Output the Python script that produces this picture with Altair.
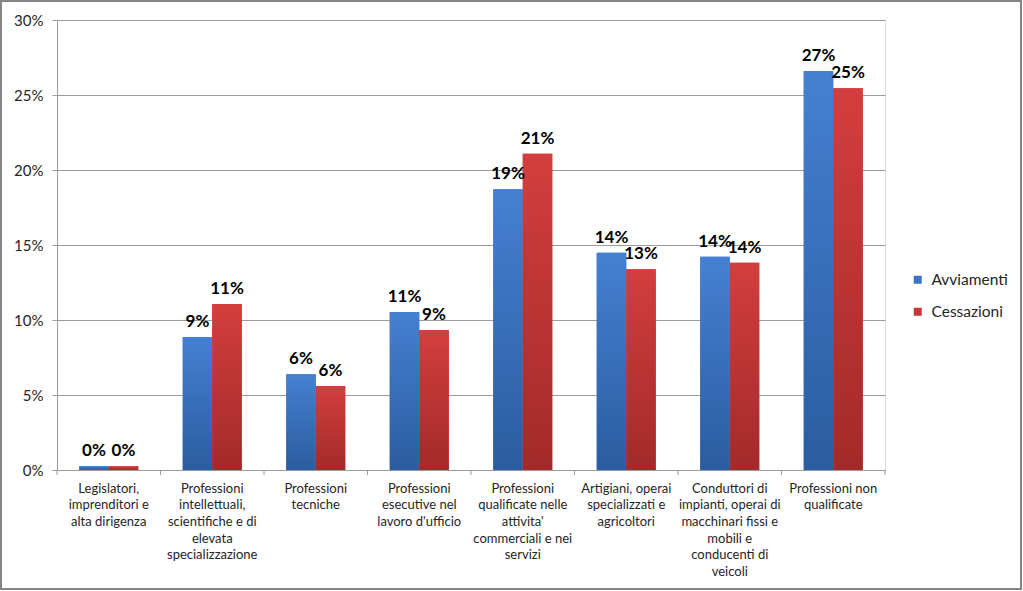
import altair as alt
import pandas as pd

categories = [
    "Legislatori,\nimprenditori e\nalta dirigenza",
    "Professioni\nintellettuali,\nscientifiche e di\nelevata\nspecializzazione",
    "Professioni\ntecniche",
    "Professioni\nesecutive nel\nlavoro d'ufficio",
    "Professioni\nqualificate nelle\nattivita'\ncommerciali e nei\nservizi",
    "Artigiani, operai\nspecializzati e\nagricoltori",
    "Conduttori di\nimpianti, operai di\nmacchinari fissi e\nmobili e\nconducenti di\nveicoli",
    "Professioni non\nqualificate",
]
series = ["Avviamenti", "Cessazioni"]
avviamenti = [0.25, 8.87, 6.38, 10.53, 18.71, 14.49, 14.22, 26.6]
cessazioni = [0.25, 11.07, 5.6, 9.33, 21.09, 13.38, 13.82, 25.45]
y_ticks = [0, 5, 10, 15, 20, 25, 30]

rows = []
for i, c in enumerate(categories):
    rows.append({"cat": c, "serie": series[0], "v": avviamenti[i]})
    rows.append({"cat": c, "serie": series[1], "v": cessazioni[i]})
df = pd.DataFrame(rows)
cats_df = pd.DataFrame({"cat": categories})
last_df = pd.DataFrame({"cat": categories[-1:]})
frame_df = pd.DataFrame({"a": [0]})

FONT = "Lato"
TXT = "#262626"
GRID = "#9c9c9c"

x_enc = alt.X(
    "cat:N",
    sort=categories,
    scale=alt.Scale(paddingInner=0, paddingOuter=0),
    axis=alt.Axis(
        title=None, labelAngle=0, ticks=False, grid=False,
        domainColor=GRID, labelExpr="split(datum.label, '\\n')",
        labelFontSize=13, labelLineHeight=16.7, labelPadding=12,
        labelBaseline="top", labelLimit=300, labelColor=TXT, labelFont=FONT,
    ),
)
xo_enc = alt.XOffset("serie:N", sort=series,
                     scale=alt.Scale(paddingOuter=0.754, paddingInner=0))
y_enc = alt.Y(
    "v:Q",
    scale=alt.Scale(domain=[0, 30], nice=False),
    axis=alt.Axis(
        title=None, values=y_ticks, labelExpr="datum.value + '%'",
        grid=True, gridColor=GRID, domainColor=GRID, tickColor=GRID,
        tickSize=5, labelPadding=9, labelFontSize=15, labelColor=TXT,
        labelFont=FONT,
    ),
)

base = alt.Chart(df)

bars = base.mark_bar().encode(
    x=x_enc, xOffset=xo_enc, y=y_enc,
    color=alt.Color(
        "serie:N",
        scale=alt.Scale(domain=series, range=["#3d75c6", "#c93636"]),
        legend=alt.Legend(
            title=None, orient="none", legendX=853, legendY=252,
            symbolType="square", symbolSize=64, labelFontSize=15.5,
            labelFont=FONT, labelColor=TXT, rowPadding=15, labelOffset=6,
            padding=0, symbolStrokeWidth=0,
        ),
    ),
)


def grad(top, bottom):
    return alt.Gradient(
        gradient="linear",
        stops=[alt.GradientStop(color=top, offset=0),
               alt.GradientStop(color=bottom, offset=1)],
        x1=0, x2=0, y1=0, y2=1,
    )


blue_bars = base.transform_filter(alt.datum.serie == series[0]).mark_bar(
    color=grad("#4680d2", "#2b5c9f")
).encode(x=x_enc, xOffset=xo_enc, y=y_enc)
red_bars = base.transform_filter(alt.datum.serie == series[1]).mark_bar(
    color=grad("#d33e3e", "#a32a2a")
).encode(x=x_enc, xOffset=xo_enc, y=y_enc)

labels = base.transform_calculate(
    lab="format(datum.v, '.0f') + '%'"
).mark_text(
    font=FONT, fontSize=17, fontWeight="bold", color="black",
    baseline="alphabetic", dy=-10,
).encode(x=x_enc, xOffset=xo_enc, y=y_enc, text="lab:N")

ticks = alt.Chart(cats_df).mark_rule(color=GRID).encode(
    x=alt.X("cat:N", sort=categories, bandPosition=0),
    y=alt.value(450), y2=alt.value(455),
)
tick_end = alt.Chart(last_df).mark_rule(color=GRID).encode(
    x=alt.X("cat:N", sort=categories, bandPosition=1),
    y=alt.value(450), y2=alt.value(455),
)

frame = alt.Chart(frame_df).mark_rect(
    filled=False, stroke="#858585", strokeWidth=2
).encode(
    x=alt.value(-56), x2=alt.value(964), y=alt.value(-19), y2=alt.value(569)
)

chart = alt.layer(
    bars, blue_bars, red_bars, labels, ticks, tick_end, frame
).properties(
    width=828, height=450,
    autosize=alt.AutoSizeParams(type="none"),
    padding={"left": 57, "top": 20, "right": 138, "bottom": 121},
    background="white",
).configure_view(strokeWidth=0).configure(font=FONT)

chart.save("out.html", embed_options={"renderer": "svg", "actions": False})
